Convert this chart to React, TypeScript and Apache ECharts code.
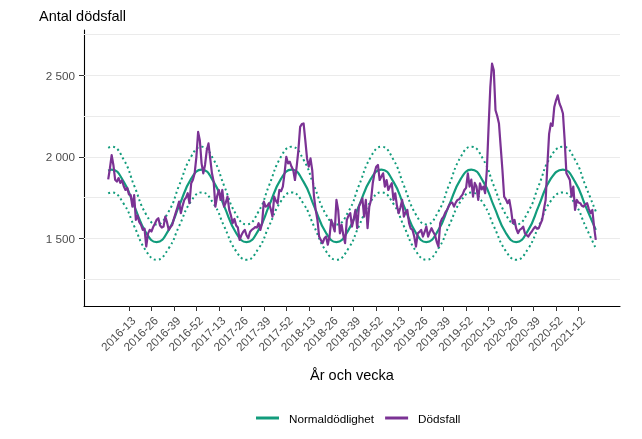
import React, { useEffect, useRef } from "react";
import * as echarts from "echarts";

const FONT = "'Liberation Sans', Arial, sans-serif";
const GREEN = "#129c7c";
const PURPLE = "#7b3294";

// ISO week counts per year, first and last week shown on the axis
const weeksPerYear: [number, number][] = [
  [2015, 53], [2016, 52], [2017, 52], [2018, 52], [2019, 52], [2020, 53], [2021, 52],
];
const firstCategory = "2015-40";
const lastCategory = "2021-36";

const tickLabels = [
  "2016-13", "2016-26", "2016-39", "2016-52",
  "2017-13", "2017-26", "2017-39", "2017-52",
  "2018-13", "2018-26", "2018-39", "2018-52",
  "2019-13", "2019-26", "2019-39", "2019-52",
  "2020-13", "2020-26", "2020-39", "2020-52",
  "2021-12",
];

const yLabelValues = [1500, 2000, 2500];
const yGridValues = [1250, 1500, 1750, 2000, 2250, 2500, 2750];

// Weekly deaths, starting 2016-01
const deathsStart = "2016-01";
const deaths2016 = [
  1862, 1930, 2010, 1950, 1860, 1848, 1870, 1840, 1855, 1820,
  1797, 1810, 1770, 1766, 1695, 1766, 1614, 1640, 1600, 1583,
  1553, 1560, 1451, 1530, 1553, 1543, 1570, 1590, 1614, 1624,
  1580, 1567, 1573, 1634, 1600, 1553, 1570, 1583, 1620, 1655,
  1690, 1726, 1655, 1700, 1736, 1750, 1777, 1716, 1838, 1860,
  1899, 2000,
];
const deaths2017 = [
  2152, 2100, 1960, 1899, 1950, 2040, 2082, 1990, 1899, 1848,
  1695, 1760, 1797, 1736, 1797, 1695, 1720, 1756, 1675, 1640,
  1594, 1620, 1580, 1567, 1492, 1520, 1540, 1553, 1520, 1502,
  1540, 1553, 1560, 1570, 1567, 1594, 1553, 1594, 1726, 1695,
  1700, 1716, 1680, 1634, 1756, 1730, 1716, 1797, 1790, 1817,
  1900, 2000,
];
const deaths2018 = [
  1960, 1970, 1940, 1919, 1858, 1940, 2041, 2183, 2200, 2204,
  2100, 1990, 1940, 1990, 1919, 1760, 1675, 1614, 1512, 1490,
  1472, 1500, 1512, 1462, 1512, 1614, 1580, 1543, 1736, 1675,
  1532, 1583, 1520, 1472, 1614, 1640, 1655, 1573, 1620, 1675,
  1563, 1695, 1720, 1746, 1634, 1736, 1563, 1695, 1736, 1838,
  1900, 1939,
];
const deaths2019 = [
  1950, 1858, 1880, 1899, 1817, 1858, 1797, 1820, 1838, 1736,
  1777, 1700, 1655, 1690, 1736, 1634, 1660, 1675, 1594, 1560,
  1553, 1512, 1451, 1532, 1540, 1553, 1512, 1540, 1573, 1512,
  1540, 1563, 1540, 1522, 1480, 1451, 1594, 1620, 1634, 1660,
  1675, 1700, 1716, 1720, 1695, 1720, 1736, 1740, 1756, 1770,
  1797, 1810,
];
const deaths2020 = [
  1899, 1818, 1860, 1756, 1840, 1818, 1736, 1838, 1800, 1818,
  1777, 1919, 2183, 2427, 2570, 2529, 2285, 2250, 2204, 2061,
  1919, 1756, 1740, 1716, 1736, 1675, 1594, 1614, 1560, 1533,
  1553, 1560, 1573, 1533, 1520, 1512, 1530, 1543, 1560, 1573,
  1560, 1563, 1590, 1614, 1680, 1736, 1950, 2140, 2204, 2190,
  2305, 2346, 2376,
];
const deaths2021 = [
  2326, 2300, 2265, 2102, 1899, 1880, 1858, 1756, 1818, 1675,
  1736, 1720, 1716, 1700, 1695, 1710, 1716, 1680, 1655, 1675,
  1573, 1492,
];

// Normal mortality and its band, read at key weeks of each year
const bandYears = [2016, 2017, 2018, 2019, 2020, 2021];
const keyWeeks = [3, 10, 16, 23, 29, 36, 42, 49];
const normalAtKey = [1922, 1847, 1700, 1534, 1478, 1553, 1700, 1866];
const upperAtKey = [2062, 1982, 1824, 1646, 1586, 1666, 1824, 2002];
const lowerAtKey = [1782, 1712, 1576, 1422, 1370, 1440, 1576, 1730];
const bandStartWeek = "2016-01";
const bandStartValues = { normal: 1915, upper: 2055, lower: 1776 };
const bandEndWeek = "2021-22";
const bandEndValues = { normal: 1553, upper: 1666, lower: 1440 };

const wk = (y: number, w: number) => `${y}-${String(w).padStart(2, "0")}`;

const allWeeks: string[] = [];
for (const [y, n] of weeksPerYear) for (let w = 1; w <= n; w++) allWeeks.push(wk(y, w));
const categories = allWeeks.slice(allWeeks.indexOf(firstCategory), allWeeks.indexOf(lastCategory) + 1);

const deaths = [...deaths2016, ...deaths2017, ...deaths2018, ...deaths2019, ...deaths2020, ...deaths2021];

function bandSeries(keyVals: number[], startV: number, endV: number) {
  const startIdx = categories.indexOf(bandStartWeek);
  const endIdx = categories.indexOf(bandEndWeek);
  const out: [string, number][] = [[bandStartWeek, startV]];
  for (const y of bandYears) {
    keyWeeks.forEach((w, i) => {
      const label = wk(y, w);
      const idx = categories.indexOf(label);
      if (idx > startIdx && idx < endIdx) out.push([label, keyVals[i]]);
    });
  }
  out.push([bandEndWeek, endV]);
  return out;
}

const fmt = (v: number) => String(v).replace(/\B(?=(\d{3})+(?!\d))/g, " ");

export default function App() {
  const ref = useRef<HTMLDivElement>(null);
  useEffect(() => {
    if (!ref.current) return;
    const chart = echarts.init(ref.current, undefined, { renderer: "svg" });
    const dStart = categories.indexOf(deathsStart);
    const deathData = deaths.map((v, i) => [categories[dStart + i], v]);
    const isTick = (_: number, val: string) => tickLabels.includes(val);

    chart.setOption({
      animation: false,
      textStyle: { fontFamily: FONT },
      grid: { left: 84, right: 22, top: 30, bottom: 133, containLabel: false },
      xAxis: {
        type: "category",
        data: categories,
        boundaryGap: false,
        axisLine: { show: true, lineStyle: { color: "#000", width: 1.1 } },
        axisTick: { show: true, interval: isTick, length: 5, lineStyle: { color: "#333", width: 1 } },
        axisLabel: {
          interval: isTick,
          rotate: 45,
          align: "right",
          verticalAlign: "top",
          margin: 8,
          color: "#4d4d4d",
          fontSize: 11.7,
          fontFamily: FONT,
        },
        splitLine: { show: false },
      },
      yAxis: {
        type: "value",
        min: 1087,
        max: 2776,
        splitLine: { show: false },
        axisLine: { show: true, lineStyle: { color: "#000", width: 1.1 } },
        axisTick: { show: true, length: 5, customValues: yLabelValues, lineStyle: { color: "#333", width: 1 } },
        axisLabel: {
          customValues: yLabelValues,
          formatter: (v: number) => fmt(v),
          color: "#4d4d4d",
          fontSize: 11.7,
          margin: 9,
          fontFamily: FONT,
        },
      },
      legend: {
        left: 251,
        top: 407,
        itemWidth: 23,
        itemHeight: 3,
        itemGap: 11,
        selectedMode: false,
        textStyle: { fontSize: 11.7, color: "#000", fontFamily: FONT, padding: [0, 0, 0, 5] },
        data: [
          { name: "Normaldödlighet", icon: "rect", itemStyle: { color: GREEN } },
          { name: "Dödsfall", icon: "rect", itemStyle: { color: PURPLE } },
        ],
      },
      graphic: [
        {
          type: "text",
          x: 39,
          y: 15.5,
          style: { text: "Antal dödsfall", fontSize: 14.5, fill: "#000", fontFamily: FONT, verticalAlign: "middle" },
        },
        {
          type: "text",
          x: 352,
          y: 375,
          style: { text: "År och vecka", fontSize: 14.5, fill: "#000", fontFamily: FONT, align: "center", verticalAlign: "middle" },
        },
      ],
      series: [
        {
          name: "Gridlines",
          type: "line",
          data: [],
          silent: true,
          z: 1,
          markLine: {
            silent: true,
            z: 1,
            symbol: ["none", "none"],
            label: { show: false },
            lineStyle: { color: "#ebebeb", width: 1.1, type: "solid" },
            emphasis: { disabled: true },
            data: yGridValues.map((v) => ({ yAxis: v })),
          },
        },
        {
          name: "Övre gräns",
          type: "line",
          data: bandSeries(upperAtKey, bandStartValues.upper, bandEndValues.upper),
          smooth: true,
          showSymbol: false,
          silent: true,
          z: 3,
          lineStyle: { color: GREEN, width: 2, type: [2, 3] },
          itemStyle: { color: GREEN },
        },
        {
          name: "Nedre gräns",
          type: "line",
          data: bandSeries(lowerAtKey, bandStartValues.lower, bandEndValues.lower),
          smooth: true,
          showSymbol: false,
          silent: true,
          z: 3,
          lineStyle: { color: GREEN, width: 2, type: [2, 3] },
          itemStyle: { color: GREEN },
        },
        {
          name: "Normaldödlighet",
          type: "line",
          data: bandSeries(normalAtKey, bandStartValues.normal, bandEndValues.normal),
          smooth: true,
          showSymbol: false,
          silent: true,
          z: 4,
          lineStyle: { color: GREEN, width: 2.2 },
          itemStyle: { color: GREEN },
        },
        {
          name: "Dödsfall",
          type: "line",
          data: deathData,
          showSymbol: false,
          silent: true,
          z: 5,
          lineStyle: { color: PURPLE, width: 2.2, join: "round" },
          itemStyle: { color: PURPLE },
        },
      ],
    });
    return () => chart.dispose();
  }, []);
  return <div ref={ref} style={{ position: "fixed", left: 0, top: 0, width: 642, height: 439 }} />;
}
